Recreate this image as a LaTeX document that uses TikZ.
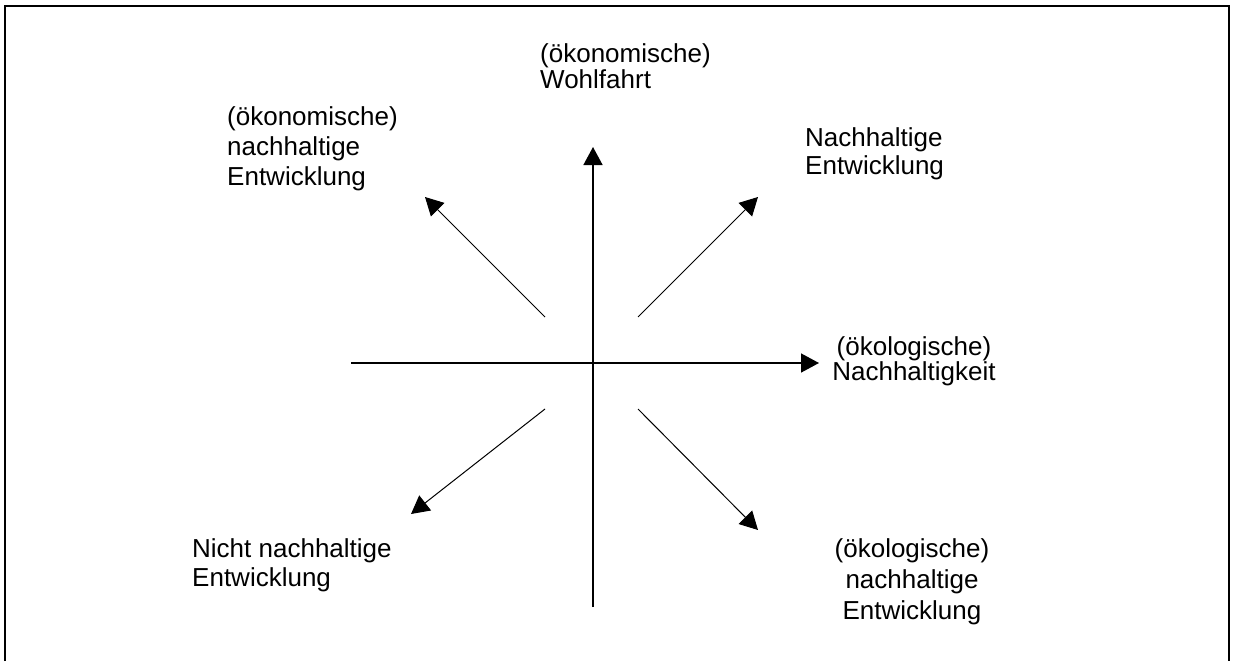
\documentclass[tikz,border=0pt]{standalone}
\usepackage{fontspec}
\setmainfont{Liberation Sans}
\usetikzlibrary{arrows.meta}

\begin{document}
\begin{tikzpicture}[x=1pt, y=-1pt,
        txt/.style={inner sep=0pt, font=\fontsize{26}{28}\selectfont},
        axis/.style={line width=1.5pt, -{Triangle[length=18pt, width=19pt]}},
        ray/.style={line width=1pt, -{Triangle[length=18pt, width=19pt]}}]
        \useasboundingbox (0,0) rectangle (1233,661);

        % frame
        \draw[line width=2pt] (5,661) -- (5,6) -- (1229,6) -- (1229,661);

        % axes
        \coordinate (vbot) at (593,607);
        \coordinate (vtop) at (593,147);
        \coordinate (hleft) at (351,363);
        \coordinate (hright) at (819,363);
        \draw[axis] (vbot) -- (vtop);
        \draw[axis] (hleft) -- (hright);

        % diagonals
        \coordinate (ul0) at (545,317);
        \coordinate (ul1) at (425,197);
        \coordinate (ur0) at (638,317);
        \coordinate (ur1) at (758,197);
        \coordinate (ll0) at (545,409);
        \coordinate (ll1) at (411,514);
        \coordinate (lr0) at (638,409);
        \coordinate (lr1) at (758,530);
        \draw[ray] (ul0) -- (ul1);
        \draw[ray] (ur0) -- (ur1);
        \draw[ray] (ll0) -- (ll1);
        \draw[ray] (lr0) -- (lr1);

        % labels
        \node[txt, anchor=north west, align=left, font=\fontsize{26}{26}\selectfont] (wohl) at (540,43) {(ökonomische)\\Wohlfahrt};
        \node[txt, anchor=north west, align=left, font=\fontsize{26}{30}\selectfont] (oekon) at (227,106) {(ökonomische)\\nachhaltige\\Entwicklung};
        \node[txt, anchor=north west, align=left] (nach) at (805,127) {Nachhaltige\\Entwicklung};
        \node[txt, anchor=north, align=center, font=\fontsize{26}{23}\selectfont] (oekol) at (914,336) {(ökologische)\\Nachhaltigkeit};
        \node[txt, anchor=north west, align=left, font=\fontsize{26}{29}\selectfont] (nicht) at (192,538) {Nicht nachhaltige\\Entwicklung};
        \node[txt, anchor=north, align=center, font=\fontsize{26}{31}\selectfont] (oekolent) at (912,538) {(ökologische)\\nachhaltige\\Entwicklung};

    \end{tikzpicture}
\end{document}
